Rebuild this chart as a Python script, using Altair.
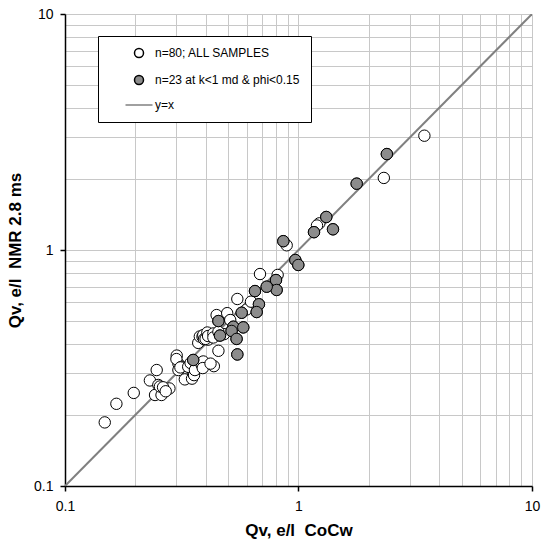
import altair as alt
import pandas as pd

# samples not in the low-k subset (visible open circles)
other_x = [0.148, 0.166, 0.197, 0.231, 0.247, 0.251, 0.243, 0.259, 0.280, 0.255,
           0.263, 0.270, 0.301, 0.306, 0.306, 0.300, 0.316, 0.312, 0.326, 0.350,
           0.354, 0.357, 0.337, 0.345, 0.360, 0.385, 0.391, 0.389, 0.434, 0.420,
           0.454, 0.372, 0.378, 0.388, 0.391, 0.394, 0.410, 0.407, 0.400, 0.410,
           0.432, 0.432, 0.446, 0.495, 0.480, 0.510, 0.600, 0.547, 0.626, 0.684,
           0.814, 0.890, 1.228, 1.200, 2.320, 3.460, 0.454]
other_y = [0.186, 0.223, 0.248, 0.280, 0.310, 0.268, 0.243, 0.243, 0.259, 0.264,
           0.262, 0.252, 0.357, 0.330, 0.310, 0.345, 0.320, 0.318, 0.283, 0.285,
           0.300, 0.295, 0.320, 0.332, 0.310, 0.326, 0.337, 0.316, 0.322, 0.330,
           0.374, 0.404, 0.430, 0.429, 0.436, 0.419, 0.417, 0.447, 0.420, 0.432,
           0.443, 0.426, 0.530, 0.540, 0.440, 0.505, 0.560, 0.620, 0.604, 0.791,
           0.784, 1.047, 1.297, 1.270, 2.020, 3.050, 0.450]

# subset n=23 at k<1 md & phi<0.15
sub_x = [2.39, 1.775, 1.315, 1.405, 1.165, 0.861, 0.969, 0.998, 0.801, 0.806,
         0.731, 0.651, 0.677, 0.662, 0.571, 0.454, 0.526, 0.580, 0.517, 0.461,
         0.543, 0.547, 0.354]
sub_y = [2.55, 1.91, 1.38, 1.224, 1.19, 1.09, 0.907, 0.864, 0.746, 0.677,
         0.699, 0.670, 0.589, 0.546, 0.542, 0.500, 0.473, 0.470, 0.454, 0.434,
         0.420, 0.361, 0.342]

all_x = other_x + sub_x
all_y = other_y + sub_y

S_ALL = "n=80; ALL SAMPLES"
S_SUB = "n=23 at k<1 md & phi<0.15"
S_LINE = "y=x"

line_vals = [0.1, 10]
grid_vals = [0.1, 0.2, 0.3, 0.4, 0.5, 0.6, 0.7, 0.8, 0.9,
             1, 2, 3, 4, 5, 6, 7, 8, 9, 10]

pts = pd.DataFrame({
    "x": all_x + sub_x,
    "y": all_y + sub_y,
    "s": [S_ALL] * len(all_x) + [S_SUB] * len(sub_x),
})
line_df = pd.DataFrame({"x": line_vals, "y": line_vals})

major_test = "datum.value == 0.1 || datum.value == 1 || datum.value == 10"
FONT = "Liberation Sans"
NB = "\u00a0"


def make_axis(title, tpad, lpad):
    return alt.Axis(
        values=grid_vals,
        format="~g",
        labelExpr=f"({major_test}) ? datum.label : ''",
        tickColor={"condition": {"test": major_test, "value": "black"}, "value": "transparent"},
        tickSize=5,
        tickWidth=1.5,
        labelPadding=lpad,
        labelFontSize=14,
        labelColor="black",
        labelFont=FONT,
        labelFlush=False,
        labelOverlap=False,
        grid=True,
        gridColor="#c8c8c8",
        gridWidth=1,
        domainColor="black",
        domainWidth=1.5,
        title=title,
        titleFont=FONT,
        titleFontSize=17,
        titleFontWeight="bold",
        titleColor="black",
        titlePadding=tpad,
    )


xs = alt.Scale(type="log", domain=[0.1, 10])
ys = alt.Scale(type="log", domain=[0.1, 10])

line = alt.Chart(line_df).mark_line(color="#808080", strokeWidth=2, clip=True).encode(
    x=alt.X("x:Q", scale=xs, axis=make_axis(f"Qv, e/l{NB}{NB}CoCw", 9, 8)),
    y=alt.Y("y:Q", scale=ys, axis=make_axis(f"Qv, e/l{NB}{NB}NMR 2.8 ms", 9, 7)),
)

dom = [S_ALL, S_SUB, S_LINE]
legend = alt.Legend(
    title=None,
    orient="none",
    legendX=33,
    legendY=22,
    fillColor="white",
    strokeColor="black",
    padding=11,
    symbolOffset=24,
    labelOffset=10,
    symbolSize=81,
    symbolStrokeWidth=1.5,
    labelFontSize=12,
    labelFont=FONT,
    labelColor="black",
    rowPadding=11,
)

points = alt.Chart(pts).mark_point(filled=False, size=130, strokeWidth=1, opacity=1).encode(
    x="x:Q",
    y="y:Q",
    fill=alt.Fill("s:N", scale=alt.Scale(domain=dom, range=["white", "#8c8c8c", "transparent"]), legend=legend),
    stroke=alt.Stroke("s:N", scale=alt.Scale(domain=dom, range=["black", "black", "#808080"]), legend=legend),
    shape=alt.Shape("s:N", scale=alt.Scale(domain=dom, range=["circle", "circle", "M-3,0H3"]), legend=legend),
)

chart = alt.layer(line, points).properties(
    width=467,
    height=472,
    autosize=alt.AutoSizeParams(type="none"),
    padding={"left": 65, "top": 14, "right": 10, "bottom": 62},
    background="white",
).configure_view(stroke="black", strokeWidth=1.5).configure(font=FONT)

chart.save("out.html", embed_options={"renderer": "svg", "actions": False})
